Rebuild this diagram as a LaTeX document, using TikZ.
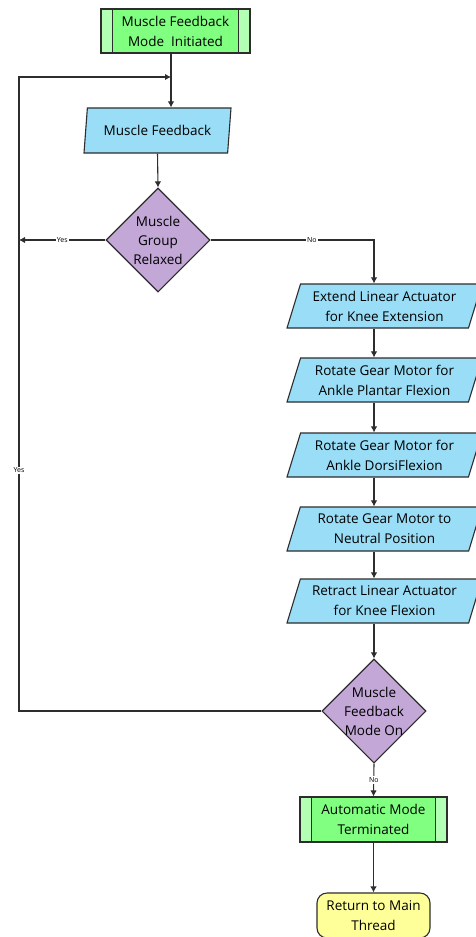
\documentclass[tikz,border=0pt]{standalone}
\usepackage{fontspec}
\setmainfont{Open Sans}
\usetikzlibrary{shapes.geometric,arrows.meta}
\definecolor{procgreen}{RGB}{128,255,128}
\definecolor{bargreen}{RGB}{179,255,179}
\definecolor{ioblue}{RGB}{153,221,247}
\definecolor{decpurple}{RGB}{195,167,215}
\definecolor{endyellow}{RGB}{255,255,153}
\definecolor{edge}{RGB}{45,45,45}
\tikzset{
  base/.style={draw=edge, line width=1.1pt, align=center, inner sep=0pt,
    font=\fontsize{13.5}{20}\selectfont},
  predef/.style={base, fill=bargreen, minimum height=44pt, path picture={
    \fill[procgreen] ([xshift=11.5pt]path picture bounding box.south west)
      rectangle ([xshift=-11.5pt]path picture bounding box.north east);
    \draw[edge, line width=1.1pt] ([xshift=11.5pt]path picture bounding box.south west)
      -- ([xshift=11.5pt]path picture bounding box.north west);
    \draw[edge, line width=1.1pt] ([xshift=-11.5pt]path picture bounding box.south east)
      -- ([xshift=-11.5pt]path picture bounding box.north east);}},
  io/.style={base, fill=ioblue, trapezium, trapezium left angle=66,
    trapezium right angle=114, trapezium stretches body, minimum height=44pt},
  decision/.style={base, fill=decpurple, diamond, inner sep=-3pt,
    minimum width=104pt, minimum height=104pt, font=\fontsize{13.5}{19}\selectfont},
  terminal/.style={base, fill=endyellow, rounded corners=10pt,
    minimum width=113pt, minimum height=45pt},
  lbl/.style={fill=white, inner sep=1pt, font=\fontsize{7}{8}\selectfont},
  flow/.style={draw=edge, line width=1.1pt, ->}
}
\begin{document}
\begin{tikzpicture}[x=1pt, y=-1pt, >={Latex[length=6pt,width=6.5pt]}]
\useasboundingbox (0,0) rectangle (475,937);
\node[predef, minimum width=149pt] (start) at (175.5,31) {Muscle Feedback\\Mode\ \ Initiated};
\node[io, trapezium left angle=72, trapezium right angle=108, minimum width=147pt, minimum height=45pt] (feedback) at (157.5,130.5) {Muscle Feedback};
\node[decision] (relaxed) at (158,240) {Muscle\\Group\\Relaxed};
\node[io, minimum width=195pt] (extend) at (384.5,306) {Extend Linear Actuator\\for Knee Extension};
\node[io, minimum width=195pt] (plantar) at (384.5,380) {Rotate Gear Motor for\\Ankle Plantar Flexion};
\node[io, minimum width=195pt] (dorsi) at (384.5,455) {Rotate Gear Motor for\\Ankle DorsiFlexion};
\node[io, minimum width=195pt] (neutral) at (384.5,529) {Rotate Gear Motor to\\Neutral Position};
\node[io, minimum width=195pt] (retract) at (384.5,601) {Retract Linear Actuator\\for Knee Flexion};
\node[decision] (modeon) at (374,711) {Muscle\\Feedback\\Mode On};
\node[predef, minimum width=147pt, minimum height=45pt] (terminated) at (373.5,819.5) {Automatic Mode\\Terminated};
\node[terminal] (thread) at (373.5,915.5) {Return to Main\\Thread};
\coordinate (join) at (171,77);
\coordinate (rail) at (19,77);
\coordinate (col) at (374,0);
\draw[flow] (start.south -| join) -- (join |- feedback.north);
\draw[flow] (feedback.south) -- (relaxed.north);
\draw[flow] (relaxed.west) -- node[lbl]{Yes} (relaxed.west -| rail);
\draw[flow] (relaxed.east) -| node[lbl, pos=0.31]{No} (col |- extend.north);
\foreach \a/\b in {extend/plantar, plantar/dorsi, dorsi/neutral, neutral/retract}
  \draw[flow] (col |- \a.south) -- (col |- \b.north);
\draw[flow] (col |- retract.south) -- (modeon.north);
\draw[flow] (modeon.west) -| node[lbl, pos=0.69]{Yes} (rail) -- (join);
\draw[flow] (modeon.south) -- node[lbl]{No} (terminated.north);
\draw[flow] (terminated.south) -- (thread.north);
\end{tikzpicture}
\end{document}
